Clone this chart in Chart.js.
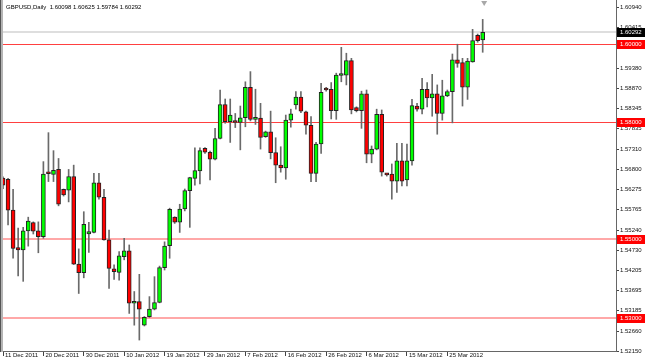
<!DOCTYPE html>
<html>
<head>
<meta charset="utf-8">
<script src="https://cdn.jsdelivr.net/npm/chart.js@4/dist/chart.umd.min.js"></script>
<style>
  html, body { margin: 0; padding: 0; background: #fff; }
  #chart { display: block; }
</style>
</head>
<body>
<canvas id="chart" width="645" height="364"></canvas>
<script>
// GBPUSD daily, one candle per trading day (Sunday bars included)
const opens = [1.5657,1.5654,1.5575,1.5479,1.5473,1.5522,1.5543,1.5522,1.5507,1.5669,
  1.5666,1.5679,1.5628,1.5626,1.5661,1.5437,1.5415,1.5514,1.5518,1.5645,
  1.5608,1.5499,1.5425,1.5416,1.5456,1.5471,1.5337,1.5341,1.5281,1.5303,
  1.5322,1.5339,1.5428,1.5484,1.5557,1.5544,1.5578,1.5625,1.5656,1.5675,
  1.5733,1.5723,1.5705,1.5758,1.5845,1.5801,1.5804,1.5799,1.5811,1.5889,
  1.5807,1.5810,1.5763,1.5775,1.5722,1.5690,1.5683,1.5805,1.5844,1.5864,
  1.5826,1.5792,1.5669,1.5744,1.5886,1.5884,1.5829,1.5919,1.5920,1.5957,
  1.5837,1.5829,1.5872,1.5718,1.5731,1.5820,1.5666,1.5667,1.5649,1.5701,
  1.5652,1.5701,1.5841,1.5833,1.5884,1.5862,1.5872,1.5822,1.5867,1.5878,
  1.5959,1.5952,1.5889,1.5954,1.6022,1.60098];
const highs = [1.5660,1.5656,1.5628,1.5529,1.5531,1.5557,1.5545,1.5545,1.5699,1.5773,
  1.5727,1.5707,1.5629,1.5679,1.5690,1.5476,1.5571,1.5544,1.5669,1.5669,
  1.5628,1.5524,1.5435,1.5469,1.5503,1.5486,1.5367,1.5411,1.5303,1.5354,
  1.5405,1.5432,1.5494,1.5580,1.5558,1.5590,1.5629,1.5659,1.5734,1.5734,
  1.5735,1.5726,1.5784,1.5882,1.5859,1.5859,1.5822,1.5841,1.5903,1.5929,
  1.5884,1.5848,1.5777,1.5828,1.5760,1.5737,1.5818,1.5833,1.5878,1.5878,
  1.5828,1.5814,1.5748,1.5899,1.5889,1.5901,1.5925,1.5991,1.5976,1.5963,
  1.5839,1.5879,1.5882,1.5739,1.5833,1.5831,1.5669,1.5693,1.5746,1.5746,
  1.5744,1.5858,1.5848,1.5912,1.5901,1.5922,1.5895,1.5907,1.5882,1.5974,
  1.5999,1.5963,1.5963,1.6037,1.6025,1.60625];
const lows = [1.5630,1.5537,1.5452,1.5407,1.5393,1.5483,1.5514,1.5466,1.5503,1.5648,
  1.5648,1.5586,1.5611,1.5596,1.5436,1.5362,1.5402,1.5467,1.5517,1.5603,
  1.5498,1.5375,1.5398,1.5396,1.5448,1.5311,1.5281,1.5243,1.5279,1.5301,
  1.5320,1.5338,1.5422,1.5452,1.5541,1.5518,1.5573,1.5531,1.5639,1.5642,
  1.5720,1.5652,1.5703,1.5757,1.5797,1.5748,1.5786,1.5729,1.5788,1.5803,
  1.5794,1.5731,1.5761,1.5706,1.5645,1.5672,1.5654,1.5787,1.5833,1.5824,
  1.5769,1.5648,1.5648,1.5720,1.5879,1.5808,1.5807,1.5903,1.5895,1.5821,
  1.5826,1.5784,1.5696,1.5696,1.5729,1.5662,1.5662,1.5603,1.5620,1.5637,
  1.5637,1.5690,1.5828,1.5821,1.5839,1.5815,1.5769,1.5805,1.5865,1.5798,
  1.5940,1.5841,1.5858,1.5953,1.6004,1.59784];
const closes = [1.5639,1.5575,1.5477,1.5473,1.5522,1.5547,1.5521,1.5507,1.5667,1.5668,
  1.5677,1.5590,1.5614,1.5661,1.5437,1.5415,1.5539,1.5520,1.5645,1.5608,
  1.5499,1.5426,1.5418,1.5458,1.5471,1.5337,1.5341,1.5322,1.5301,1.5322,
  1.5339,1.5428,1.5483,1.5577,1.5544,1.5578,1.5625,1.5658,1.5676,1.5727,
  1.5723,1.5705,1.5758,1.5845,1.5801,1.5818,1.5799,1.5811,1.5889,1.5807,
  1.5811,1.5761,1.5775,1.5722,1.5690,1.5683,1.5805,1.5821,1.5864,1.5828,
  1.5792,1.5669,1.5744,1.5876,1.5882,1.5829,1.5920,1.5920,1.5957,1.5831,
  1.5829,1.5872,1.5718,1.5731,1.5820,1.5672,1.5665,1.5649,1.5701,1.5649,
  1.5701,1.5842,1.5833,1.5884,1.5862,1.5872,1.5822,1.5867,1.5878,1.5959,
  1.5950,1.5889,1.5956,1.6008,1.6008,1.60292];

const xTickBars = [0, 8, 16, 24, 32, 40, 48, 56, 64, 72, 80, 88];
const xTickLabels = ['11 Dec 2011', '20 Dec 2011', '30 Dec 2011', '10 Jan 2012', '19 Jan 2012', '29 Jan 2012',
  '7 Feb 2012', '16 Feb 2012', '26 Feb 2012', '6 Mar 2012', '15 Mar 2012', '25 Mar 2012'];
const yTickValues = [1.52150, 1.52660, 1.53185, 1.53695, 1.54205, 1.54730, 1.55240, 1.55765, 1.56275,
  1.56800, 1.57310, 1.57835, 1.58345, 1.58870, 1.59380, 1.59905, 1.60415, 1.60940];
const levels = [1.60000, 1.58000, 1.55000, 1.53000];

const symbolName = 'GBPUSD,Daily';
const n = closes.length - 1;
const lastPrice = closes[n];

const wickData = lows.map((lo, i) => ({x: i, y: [lo, highs[i]]}));
const bodyData = opens.map((o, i) => ({x: i, y: [o, closes[i]]}));
const bodyColors = opens.map((o, i) => closes[i] >= o ? '#00ff00' : '#ff0000');

const FONT = '"Liberation Sans", Arial, sans-serif';

// no extra room for the end labels, the plot runs edge to edge
const noPad = (scale) => {
  scale.paddingTop = 0;
  scale.paddingBottom = 0;
  scale.paddingLeft = 0;
  scale.paddingRight = 0;
};

const overlay = {
  id: 'overlay',
  beforeDatasetsDraw(chart) {
    const {ctx, chartArea: a, scales: {y}} = chart;
    ctx.save();
    // bid line
    let py = y.getPixelForValue(lastPrice);
    ctx.fillStyle = '#dedede';
    ctx.fillRect(a.left, Math.round(py) - 1, a.right - a.left, 2);
    // horizontal levels
    levels.forEach((v, i) => {
      const ly = y.getPixelForValue(v);
      if (i < 2) {
        ctx.fillStyle = '#ff4040';
        ctx.fillRect(a.left, Math.round(ly), a.right - a.left, 1);
      } else {
        ctx.fillStyle = '#ffa8a8';
        ctx.fillRect(a.left, Math.round(ly) - 1, a.right - a.left, 2);
      }
    });
    ctx.restore();
  },
  afterDraw(chart) {
    const {ctx, chartArea: a, scales: {x, y}} = chart;
    ctx.save();
    // left frame
    ctx.fillStyle = '#555';
    ctx.fillRect(0, 0, 1, a.bottom + 1);
    ctx.fillStyle = '#b4b4b4';
    ctx.fillRect(1, 0, 2, a.bottom + 1);

    // title
    ctx.font = '6px ' + FONT;
    ctx.fillStyle = '#000';
    ctx.textBaseline = 'middle';
    ctx.textAlign = 'left';
    const title = symbolName + '  ' + [opens[n], highs[n], lows[n], closes[n]].map(v => v.toFixed(5)).join(' ');
    ctx.fillText(title, 6, 7);

    // shift marker
    const sx = x.getPixelForValue(n) + 1.5;
    ctx.fillStyle = '#a8a8a8';
    ctx.beginPath();
    ctx.moveTo(sx - 3, 1);
    ctx.lineTo(sx + 3, 1);
    ctx.lineTo(sx, 6);
    ctx.closePath();
    ctx.fill();

    // price labels on the axis
    const tag = (v, bg) => {
      const ty = Math.round(y.getPixelForValue(v));
      ctx.fillStyle = bg;
      ctx.fillRect(a.right + 1, ty - 4, chart.width - a.right - 1, 9);
      ctx.fillStyle = '#fff';
      ctx.fillText(v.toFixed(5), a.right + 4, ty + 0.5);
    };
    levels.forEach(v => tag(v, '#ff0000'));
    tag(lastPrice, '#000');
    ctx.restore();
  }
};

const ctx = document.getElementById('chart');

new Chart(ctx, {
  type: 'bar',
  data: {
    datasets: [{
      label: 'wick',
      data: wickData,
      backgroundColor: '#6a6a6a',
      barThickness: 1,
      grouped: false,
      order: 2
    }, {
      label: 'body',
      data: bodyData,
      backgroundColor: bodyColors,
      borderColor: '#222',
      borderWidth: 1,
      borderSkipped: false,
      barThickness: 4,
      minBarLength: 2,
      grouped: false,
      order: 1
    }]
  },
  options: {
    responsive: false,
    animation: false,
    devicePixelRatio: 1,
    layout: { padding: { left: 3, top: 0, right: 0, bottom: 0 } },
    plugins: { legend: { display: false }, tooltip: { enabled: false } },
    scales: {
      x: {
        type: 'linear',
        offset: false,
        min: 0,
        max: 121.4,
        afterBuildTicks: (scale) => { scale.ticks = xTickBars.map(v => ({value: v})); },
        afterFit: (scale) => { scale.height = 13; noPad(scale); },
        grid: { drawOnChartArea: false, offset: false, tickLength: 5, color: '#444' },
        border: { color: '#666' },
        ticks: {
          autoSkip: false,
          maxRotation: 0,
          align: 'start',
          labelOffset: 2,
          padding: -4,
          color: '#111',
          font: { family: FONT, size: 6 },
          callback: (value) => {
            const k = xTickBars.indexOf(value);
            return k >= 0 ? xTickLabels[k] : '';
          }
        }
      },
      y: {
        type: 'linear',
        position: 'right',
        min: 1.5215,
        max: 1.6112,
        afterBuildTicks: (scale) => { scale.ticks = yTickValues.map(v => ({value: v})); },
        afterFit: (scale) => { scale.width = 29; noPad(scale); },
        grid: { drawOnChartArea: false, tickLength: 3, color: '#444' },
        border: { color: '#666' },
        ticks: {
          autoSkip: false,
          padding: 1,
          color: '#111',
          font: { family: FONT, size: 6 },
          callback: (value) => value.toFixed(5)
        }
      }
    }
  },
  plugins: [overlay]
});
</script>
</body>
</html>
